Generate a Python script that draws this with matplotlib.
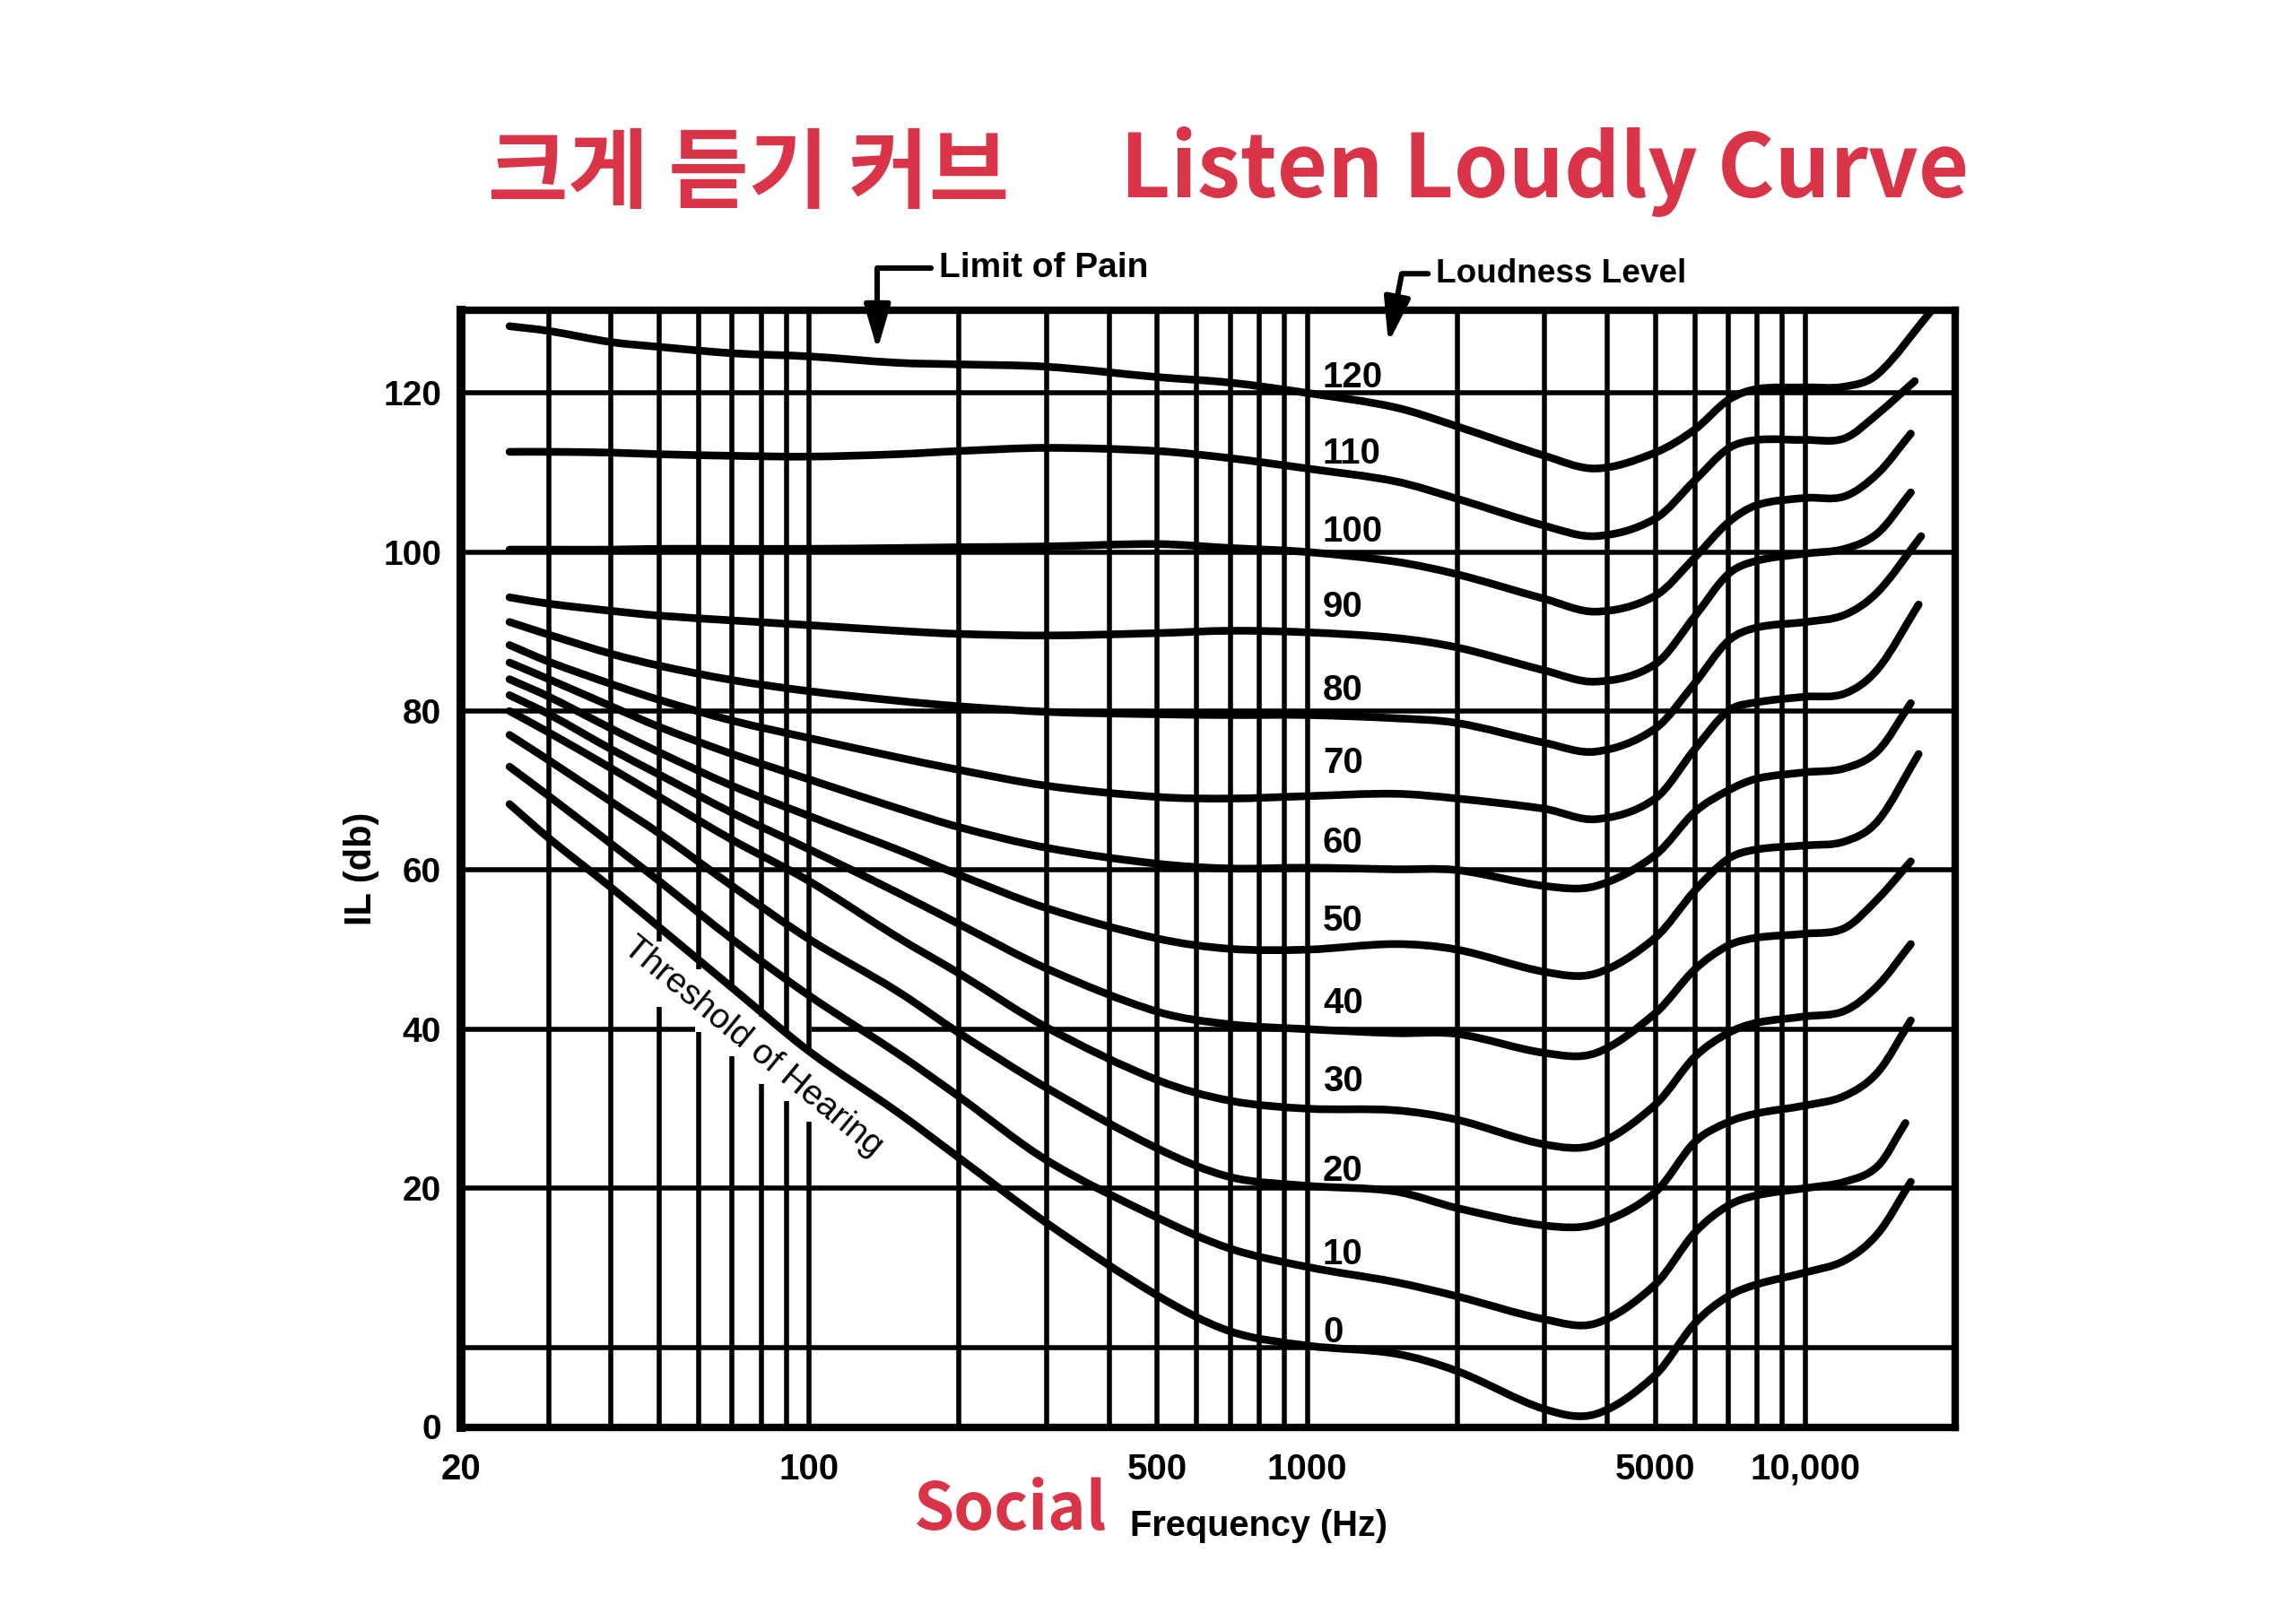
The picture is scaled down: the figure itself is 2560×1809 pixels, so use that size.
import numpy as np
import matplotlib.pyplot as plt
from matplotlib.path import Path
from matplotlib.patches import PathPatch

plt.rcParams['font.family'] = ['Liberation Sans', 'DejaVu Sans']

freqs = [25, 30, 40, 50, 70, 100, 150, 200, 300, 500, 700, 1000, 1500, 2000,
         3000, 3800, 5000, 6000, 7000, 8000, 10000, 12000, 14000]

# loudness level (phon) -> intensity level (dB) at each frequency above
levels = [0, 10, 20, 30, 40, 50, 60, 70, 80, 90, 100, 110, 120]
curve_0 = [68.3, 64, 57.8, 52.8, 45.2, 37.2, 29.6, 23.8, 15.6, 6.5, 2, 0.2, -0.8, -3,
           -7.8, -8.4, -3.5, 3, 6.4, 7.9, 9.4, 10.9, 14.3]
curve_10 = [73, 69.3, 63.3, 58.6, 51.3, 44.2, 37, 31.5, 23.5, 16.3, 12.4, 10.1, 8.2, 6.4,
            3.5, 3, 7.9, 14.4, 17.8, 19.1, 20, 20.8, 22.8]
curve_20 = [77, 73.8, 68.6, 64.6, 58, 51.3, 44.8, 39.5, 32.6, 25, 21.4, 20.3, 19.6, 17.5,
            15.3, 15.5, 19.5, 25.8, 28.3, 29.4, 30.4, 31.6, 34.6]
curve_30 = [80, 77.3, 72.8, 69.2, 63.8, 58.6, 51.6, 47, 40.2, 33.6, 31, 30, 29.8, 28.6,
            25.5, 25.5, 30.5, 36.5, 39.5, 40.8, 41.6, 42.3, 45.5]
curve_40 = [82, 79.6, 75.2, 72, 67.2, 62.6, 57.2, 53.2, 47.6, 42.2, 40.6, 40, 39.5, 39.4,
            37, 37, 42, 47.5, 50.5, 51.5, 52, 52.7, 56.4]
curve_50 = [84, 81.8, 77.8, 74.8, 70.6, 66.8, 62.6, 59.4, 55.2, 51.4, 50.1, 50, 50.7, 50,
            47.2, 47, 51.5, 57.4, 61.4, 62.6, 63.1, 63.6, 66.2]
curve_60 = [86.1, 84, 80.6, 78, 74.6, 71.4, 67.8, 65.4, 62.8, 60.8, 60.2, 60.3, 60.1, 60,
            58, 58, 61.9, 67.3, 70, 71.5, 72.3, 72.8, 75]
curve_70 = [88.3, 86.2, 83.4, 81.4, 78.8, 76.6, 74.2, 72.6, 70.6, 69.2, 69, 69.3, 69.6, 69,
            67.7, 66.4, 69, 75.2, 80, 81.1, 81.8, 82.2, 85.3]
curve_80 = [91.2, 89.6, 87.2, 85.7, 83.9, 82.5, 81.3, 80.6, 79.9, 79.6, 79.5, 79.5, 79.1, 78.5,
            76, 74.9, 77.8, 83.5, 88.8, 90.5, 91.2, 92.1, 95]
curve_90 = [94.3, 93.5, 92.6, 92, 91.4, 90.8, 90.1, 89.7, 89.5, 89.8, 90.1, 89.9, 89.2, 88,
            85.1, 83.7, 85.9, 91.9, 97.2, 98.9, 99.8, 100.4, 102.4]
curve_100 = [100.3, 100.3, 100.3, 100.4, 100.4, 100.4, 100.5, 100.6, 100.7, 101, 100.5, 100,
             98.8, 97.2, 94.1, 92.5, 94.5, 99.3, 103.7, 105.9, 106.8, 107, 109.9]
curve_110 = [112.6, 112.6, 112.5, 112.3, 112.1, 112, 112.3, 112.7, 113.1, 112.7, 111.8, 110.5,
             108.9, 106.7, 103.3, 102, 104.2, 109, 113, 114.1, 114.1, 114.3, 117.4]
curve_120 = [128.4, 127.8, 126.4, 125.8, 125, 124.6, 123.8, 123.6, 123.3, 122, 121.3, 120,
             118.2, 115.8, 112.1, 110.5, 112.5, 115.4, 119.1, 120.5, 120.7, 120.8, 122.4]
curves = [curve_0, curve_10, curve_20, curve_30, curve_40, curve_50, curve_60,
          curve_70, curve_80, curve_90, curve_100, curve_110, curve_120]

# where each curve stops at the high-frequency end
end_freqs = [16300, 15900, 16300, 16300, 16300, 16900, 16300, 16900, 17100, 16300, 16300, 16600, 17900]
end_levels = [20.8, 28.2, 41.1, 50.7, 61.1, 74.6, 81, 93.4, 102, 107.5, 114.9, 121.5, 130.3]

x_ticks = [20, 100, 500, 1000, 5000, 10000]
x_ticklabels = ['20', '100', '500', '1000', '5000', '10,000']
y_ticks = [-10, 20, 40, 60, 80, 100, 120]
y_ticklabels = ['0', '20', '40', '60', '80', '100', '120']

RED = '#da3448'
GRID_LW = 2.0
CURVE_LW = 3.1
# vertical nudge of each curve label above its curve
label_lift = [1.9, 1.7, 2.2, 3.4, 3.3, 3.6, 3.4, 3.5, 2.6, 3.05, 2.6, 2.4, 2.0]


def smooth_path(f, v):
    # cubic Hermite through the read points, in log-frequency space
    u = np.log10(np.asarray(f, dtype=float))
    v = np.asarray(v, dtype=float)
    m = np.empty(len(u))
    m[1:-1] = (v[2:] - v[:-2]) / (u[2:] - u[:-2])
    m[0] = (v[1] - v[0]) / (u[1] - u[0])
    m[-1] = (v[-1] - v[-2]) / (u[-1] - u[-2])
    verts = [(f[0], v[0])]
    codes = [Path.MOVETO]
    for i in range(len(u) - 1):
        h = u[i + 1] - u[i]
        verts.append((10 ** (u[i] + h / 3), v[i] + m[i] * h / 3))
        verts.append((10 ** (u[i + 1] - h / 3), v[i + 1] - m[i + 1] * h / 3))
        verts.append((f[i + 1], v[i + 1]))
        codes += [Path.CURVE4] * 3
    return Path(verts, codes)


fig = plt.figure(figsize=(12.8, 9.045), dpi=200)
ax = fig.add_axes([0.2009, 0.1199, 0.6506, 0.6888])
ax.set_xscale('log')
ax.set_xlim(20, 20000)
ax.set_ylim(-10.1, 130.4)

# grid (drawn by hand so the lines can break around the threshold label)
grid_freqs = [30, 40, 200, 300, 400, 500, 600, 700, 800, 900,
              1000, 2000, 3000, 4000, 5000, 6000, 7000, 8000, 9000, 10000]
ax.vlines(grid_freqs, -10.1, 130.4, color='black', lw=GRID_LW, zorder=1)
broken = {50: (51, 42.8), 60: (47.5, 39.6), 70: (44.8, 36.6),
          80: (41.6, 33.1), 90: (39.6, 30.9), 100: (37.6, 28.4)}
for fq, (top_end, low_start) in broken.items():
    ax.vlines(fq, top_end, 130.4, color='black', lw=GRID_LW, zorder=1)
    ax.vlines(fq, -10.1, low_start, color='black', lw=GRID_LW, zorder=1)
ax.hlines([0, 20, 60, 80, 100, 120], 20, 20000, color='black', lw=GRID_LW, zorder=1)
ax.hlines(40, 20, 59, color='black', lw=GRID_LW, zorder=1)
ax.hlines(40, 101, 20000, color='black', lw=GRID_LW, zorder=1)

for lev, vals, fe, ve, lift in zip(levels, curves, end_freqs, end_levels, label_lift):
    path = smooth_path(freqs + [fe], vals + [ve])
    ax.add_patch(PathPatch(path, fill=False, lw=CURVE_LW, edgecolor='black',
                           capstyle='round', joinstyle='round', zorder=3))
    ax.text(1075, lev + lift, str(lev), ha='left', va='center',
            fontsize=14.5, weight='bold', zorder=4)

ax.text(77, 37.8, 'Threshold of Hearing', rotation=-39.5, rotation_mode='anchor',
        ha='center', va='center', fontsize=14, zorder=4)

for s in ax.spines.values():
    s.set_linewidth(3.0)
ax.spines['left'].set_linewidth(3.6)

ax.set_xticks(x_ticks)
ax.set_xticklabels(x_ticklabels)
ax.set_yticks(y_ticks)
ax.set_yticklabels(y_ticklabels)
ax.minorticks_off()
ax.tick_params(axis='both', length=0)
ax.tick_params(axis='x', pad=10, labelsize=14.5)
ax.tick_params(axis='y', pad=8, labelsize=14)
for lab in ax.get_xticklabels() + ax.get_yticklabels():
    lab.set_fontweight('bold')

ax.set_ylabel('IL (db)', fontsize=15, weight='bold')
ax.yaxis.set_label_coords(-0.055, 0.5)
ax.set_xlabel('Frequency (Hz)', fontsize=14.3, weight='bold')
ax.xaxis.set_label_coords(0.534, -0.073)

arrow = dict(arrowstyle='-|>,head_length=0.75,head_width=0.22', color='black', lw=2.2,
             shrinkA=1, shrinkB=0, relpos=(0, 0.5), mutation_scale=20)
ax.annotate('Limit of Pain', xy=(137, 125.4), xytext=(182, 135.7),
            ha='left', va='center', fontsize=14, weight='bold', annotation_clip=False,
            arrowprops=dict(arrow, connectionstyle='angle,angleA=180,angleB=90,rad=0'))
ax.annotate('Loudness Level', xy=(1455, 126.3), xytext=(1810, 135.0),
            ha='left', va='center', fontsize=13.3, weight='bold', annotation_clip=False,
            arrowprops=dict(arrow, connectionstyle='angle,angleA=180,angleB=79,rad=0'))

# red hand-written notes
cjk = ['Noto Sans CJK KR', 'DejaVu Sans']
fig.text(0.2124, 0.892, '크게 듣기 커브', color=RED, fontsize=35, ha='left', va='center',
         weight='bold', family=cjk)
fig.text(0.4879, 0.894, 'Listen Loudly Curve', color=RED, fontsize=35, ha='left', va='center',
         weight='bold', family=cjk)
fig.text(0.440, 0.0685, 'Social', color=RED, fontsize=26, ha='center', va='center',
         weight='bold', family=cjk)

fig.savefig('out.png', dpi=200, facecolor='white')
